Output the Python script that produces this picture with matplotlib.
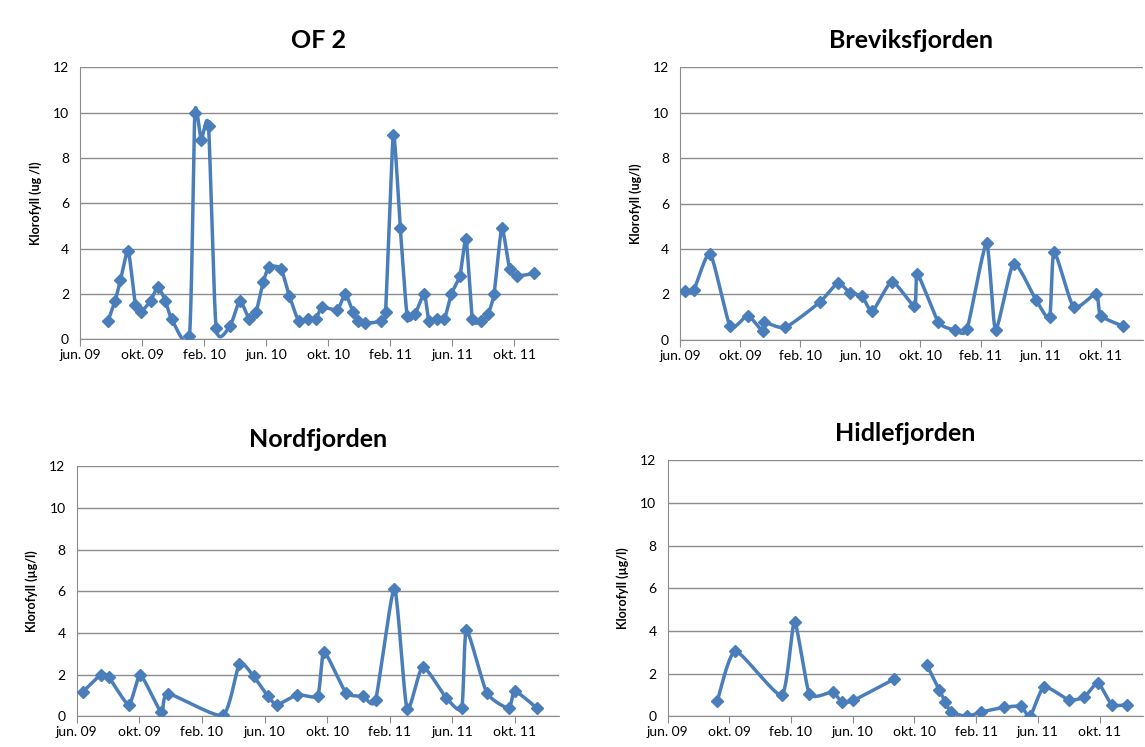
import numpy as np
import matplotlib.pyplot as plt

plt.rcParams['font.family'] = ['Lato', 'DejaVu Sans']

# x = months since jun. 09
tick_pos = [0, 4, 8, 12, 16, 20, 24, 28]
tick_labels = ['jun. 09', 'okt. 09', 'feb. 10', 'jun. 10', 'okt. 10', 'feb. 11', 'jun. 11', 'okt. 11']

of2_x = [1.8, 2.26, 2.6, 3.1, 3.57, 3.9, 4.56, 5.0, 5.5, 5.9, 7.05, 7.4, 7.8, 8.28, 8.77, 9.68,
         10.3, 10.9, 11.35, 11.8, 12.2, 12.95, 13.5, 14.1, 14.7, 15.2, 15.6, 16.6, 17.1, 17.6,
         17.9, 18.4, 19.4, 19.7, 20.2, 20.65, 21.1, 21.6, 22.2, 22.5, 23.0, 23.5, 23.95, 24.5,
         24.9, 25.3, 25.85, 26.3, 26.7, 27.2, 27.7, 28.2, 29.3]
of2_y = [0.8, 1.7, 2.6, 3.9, 1.5, 1.2, 1.7, 2.3, 1.7, 0.9, 0.15, 10.0, 8.8, 9.4, 0.5, 0.6,
         1.7, 0.9, 1.2, 2.5, 3.2, 3.1, 1.9, 0.8, 0.9, 0.9, 1.4, 1.3, 2.0, 1.2,
         0.8, 0.7, 0.8, 1.2, 9.0, 4.9, 1.0, 1.1, 2.0, 0.8, 0.9, 0.9, 2.0, 2.8,
         4.4, 0.9, 0.8, 1.1, 2.0, 4.9, 3.1, 2.8, 2.9]

brev_x = [0.32, 0.9, 2.0, 3.33, 4.5, 5.5, 5.6, 7.0, 9.3, 10.5, 11.3, 12.1, 12.8, 14.1, 15.6,
          15.8, 17.2, 18.3, 19.1, 20.4, 21.0, 22.2, 23.7, 24.6, 24.9, 26.2, 27.7, 28.0, 29.5]
brev_y = [2.15, 2.18, 3.8, 0.6, 1.07, 0.37, 0.77, 0.55, 1.66, 2.5, 2.07, 1.93, 1.26, 2.56, 1.5,
          2.9, 0.78, 0.44, 0.47, 4.25, 0.44, 3.36, 1.75, 1.0, 3.88, 1.44, 2.04, 1.07, 0.6]

nord_x = [0.38, 1.56, 2.04, 3.33, 4.07, 5.4, 5.84, 9.33, 10.4, 11.3, 12.2, 12.8, 14.1, 15.4,
          15.8, 17.2, 18.3, 19.1, 20.3, 21.1, 22.1, 23.6, 24.6, 24.9, 26.2, 27.6, 28.0, 29.4]
nord_y = [1.17, 2.0, 1.89, 0.56, 1.97, 0.2, 1.09, 0.05, 2.53, 1.92, 0.98, 0.56, 1.04, 1.0,
          3.09, 1.14, 0.96, 0.8, 6.13, 0.37, 2.37, 0.9, 0.4, 4.13, 1.14, 0.4, 1.2, 0.4]

# NaN marks the gap in the Hidlefjorden series
hidle_x = [3.23, 4.4, 7.4, 8.23, 9.2, 10.7, 11.3, 12.05, 14.7, np.nan, 16.8, 17.6, 18.0, 18.4,
           19.4, 20.3, 21.8, 22.9, 23.5, 24.4, 26.0, 27.0, 27.9, 28.8, 29.8]
hidle_y = [0.73, 3.05, 1.0, 4.42, 1.05, 1.14, 0.66, 0.75, 1.75, np.nan, 2.42, 1.25, 0.66, 0.2,
           0.0, 0.2, 0.42, 0.47, 0.0, 1.38, 0.78, 0.9, 1.56, 0.55, 0.55]

panels = [
    ('OF 2', 'Klorofyll (ug /l)', of2_x, of2_y, [0.070, 0.546, 0.417, 0.364]),
    ('Breviksfjorden', 'Klorofyll (ug/l)', brev_x, brev_y, [0.594, 0.545, 0.404, 0.365]),
    ('Nordfjorden', 'Klorofyll (µg/l)', nord_x, nord_y, [0.067, 0.041, 0.421, 0.335]),
    ('Hidlefjorden', 'Klorofyll (µg/l)', hidle_x, hidle_y, [0.583, 0.041, 0.415, 0.343]),
]

BLUE = '#4a7ebb'


def smooth(x, y, s=0.3, n=20):
    # cardinal spline through the points, like Excel's smoothed line
    x = np.asarray(x, float)
    y = np.asarray(y, float)
    px = np.concatenate([[x[0]], x, [x[-1]]])
    py = np.concatenate([[y[0]], y, [y[-1]]])
    t = np.linspace(0, 1, n)
    h00 = 2 * t ** 3 - 3 * t ** 2 + 1
    h10 = t ** 3 - 2 * t ** 2 + t
    h01 = -2 * t ** 3 + 3 * t ** 2
    h11 = t ** 3 - t ** 2
    xs, ys = [], []
    for i in range(1, len(px) - 2):
        for p, out in ((px, xs), (py, ys)):
            m1 = s * (p[i + 1] - p[i - 1])
            m2 = s * (p[i + 2] - p[i])
            out.extend(h00 * p[i] + h10 * m1 + h01 * p[i + 1] + h11 * m2)
    return xs, ys


fig = plt.figure(figsize=(11.45, 7.47), dpi=100)
for title, ylabel, xv, yv, rect in panels:
    ax = fig.add_axes(rect)
    xv = np.asarray(xv, float)
    yv = np.asarray(yv, float)
    breaks = np.where(np.isnan(xv))[0]
    for seg in np.split(np.arange(len(xv)), breaks):
        seg = seg[~np.isnan(xv[seg])]
        sx, sy = smooth(xv[seg], yv[seg])
        ax.plot(sx, sy, color=BLUE, lw=2.5, zorder=3)
        ax.plot(xv[seg], yv[seg], 'D', color=BLUE, ms=6.5, zorder=4)
    ax.set_xlim(0, 30.8)
    ax.set_ylim(0, 12)
    ax.set_yticks(range(0, 13, 2))
    ax.set_xticks(tick_pos)
    ax.set_xticklabels(tick_labels)
    ax.yaxis.grid(True, color='#8c8c8c', lw=1)
    ax.set_axisbelow(True)
    for s in ('top', 'right'):
        ax.spines[s].set_visible(False)
    for s in ('left', 'bottom'):
        ax.spines[s].set_color('#8c8c8c')
    ax.tick_params(axis='y', length=0, labelsize=10, pad=8)
    ax.tick_params(axis='x', length=5, color='#8c8c8c', labelsize=10, pad=2)
    ax.set_title(title, fontsize=18, fontweight='bold', pad=14)
    ax.set_ylabel(ylabel, fontsize=9, fontweight='bold', labelpad=8)

plt.savefig('out.png')
